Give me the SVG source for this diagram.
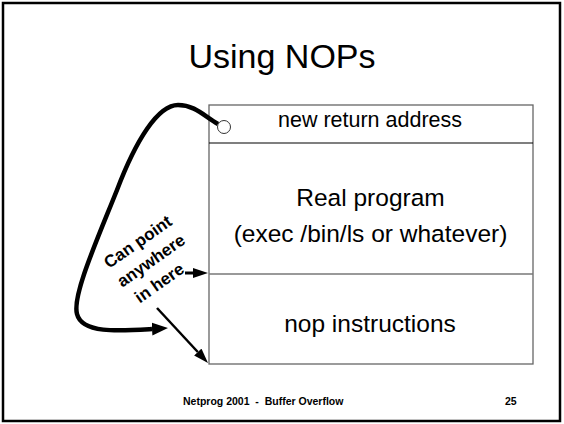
<svg xmlns="http://www.w3.org/2000/svg" width="564" height="424" viewBox="0 0 564 424">
<style>
text{font-family:"Liberation Sans",Arial,sans-serif;fill:#000}
.cell{font-size:24.5px;text-anchor:middle}
.foot{font-size:10.5px;font-weight:bold}
.lbl{font-size:17px;font-weight:bold;text-anchor:middle}
.conn{fill:none;stroke:#000}
</style>
<defs>
<marker id="hBig" markerUnits="userSpaceOnUse" markerWidth="20" markerHeight="16" refX="0" refY="6.5" orient="auto">
<path d="M0,0 L16,6.5 L0,13 Z" fill="#000"/>
</marker>
<marker id="hSmall" markerUnits="userSpaceOnUse" markerWidth="18" markerHeight="12" refX="0" refY="5" orient="auto">
<path d="M0,0 L15,5 L0,10 Z" fill="#000"/>
</marker>
</defs>
<rect x="3" y="3" width="557" height="418" fill="#fff" stroke="#000" stroke-width="2.5"/>
<text x="282" y="68" font-size="34" text-anchor="middle">Using NOPs</text>
<g id="stack">
<rect x="209" y="105" width="324" height="259" fill="#fff" stroke="#666" stroke-width="1.3"/>
</g>
<g id="retaddr">
<line x1="209" y1="143" x2="533" y2="143" stroke="#000" stroke-width="1.2"/>
<text x="370" y="127" font-size="21.5" text-anchor="middle">new return address</text>
</g>
<g id="realprog">
<text class="cell" x="370.5" y="206">Real program</text>
<text class="cell" x="370.5" y="242">(exec /bin/ls or whatever)</text>
</g>
<g id="nops">
<line x1="209" y1="274" x2="533" y2="274" stroke="#777" stroke-width="1.5"/>
<text class="cell" x="370" y="332">nop instructions</text>
</g>
<g id="label">
<g transform="translate(149,263) rotate(-35)">
<text class="lbl" x="3" y="-18">Can point</text>
<text class="lbl" x="3" y="5">anywhere</text>
<text class="lbl" x="-3" y="28">in here</text>
</g>
</g>
<g id="connectors">
<path class="conn" stroke-width="4.5" marker-end="url(#hBig)" d="M218,124 C204,116 195,105 178,105 C158,105 136,140 117,190 C97,240 72,296 77,314 C82,334 120,331 152,329"/>
<path class="conn" stroke-width="3" marker-end="url(#hSmall)" d="M185,273 L193,273"/>
<path class="conn" stroke-width="2.5" marker-end="url(#hSmall)" d="M157,308 L197.8,352"/>
<circle cx="224" cy="127" r="6.5" fill="#fff" stroke="#333" stroke-width="1"/>
</g>
<g id="footer">
<text class="foot" x="183" y="405" xml:space="preserve">Netprog 2001  -  Buffer Overflow</text>
<text class="foot" x="505" y="405">25</text>
</g>
</svg>
